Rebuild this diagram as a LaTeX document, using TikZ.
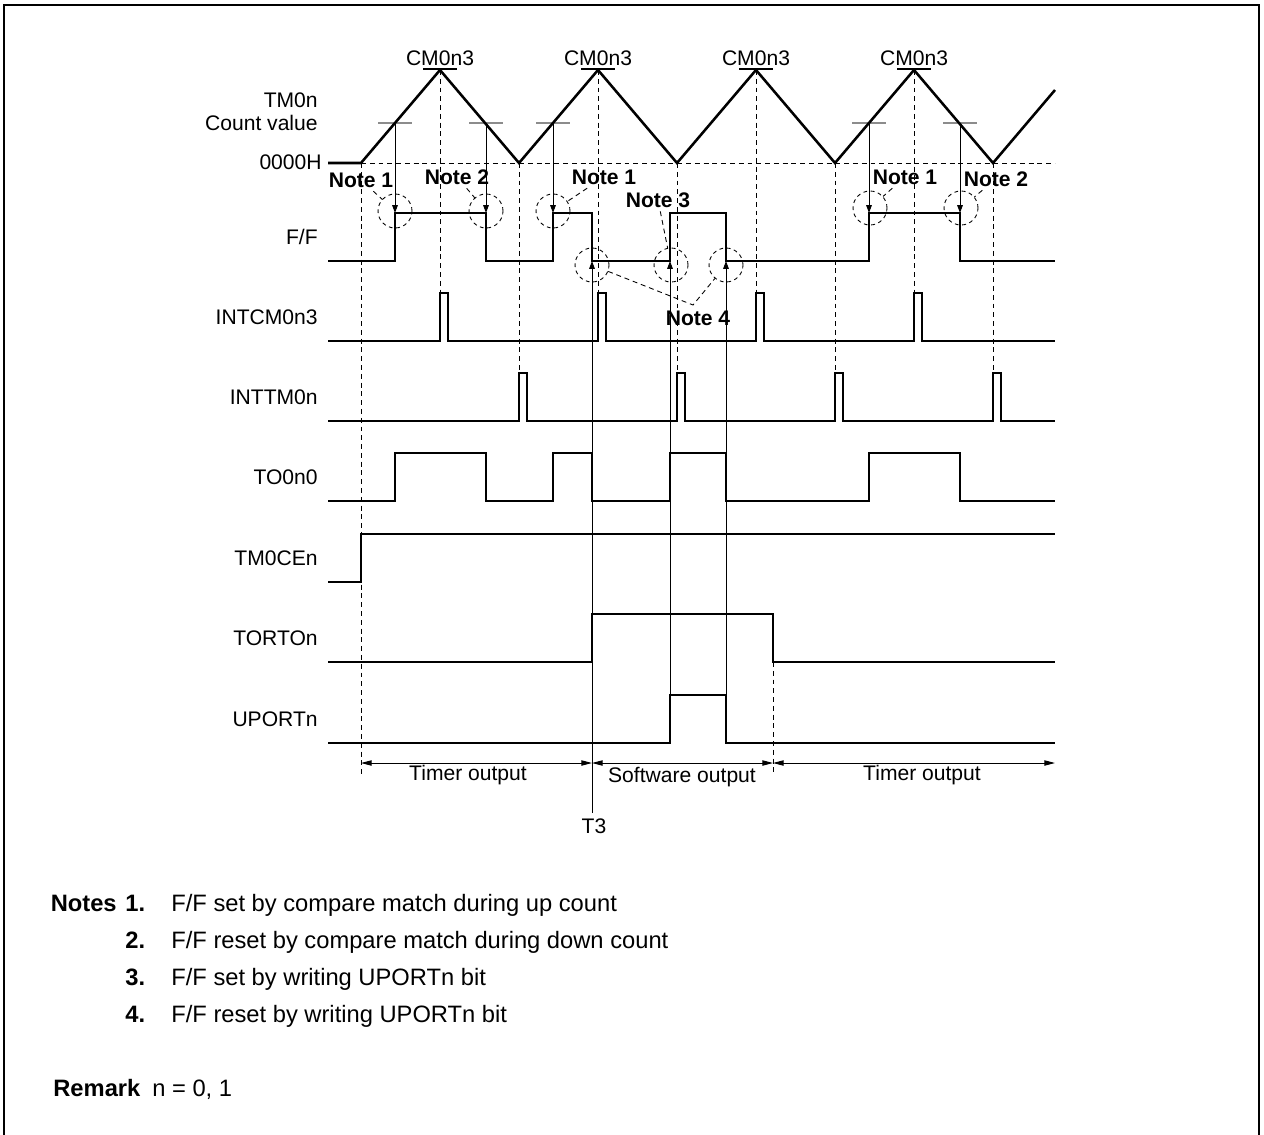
\documentclass[tikz,border=0pt]{standalone}
\usepackage{fontspec}
\setmainfont{Liberation Sans}
\usetikzlibrary{arrows.meta,positioning}
\newcommand{\diagfont}{\fontsize{12}{13}\selectfont}
\newcommand{\notefont}{\fontsize{13.5}{16}\selectfont}
\tikzset{
  sig/.style={line width=1.45pt, line join=miter},
  guide/.style={line width=0.5pt, dash pattern=on 2.8pt off 2.2pt},
  lvl/.style={line width=0.6pt, draw=black!45},
  ptr/.style={line width=0.55pt, -{Triangle[length=4.5pt,width=3.2pt]}},
  span/.style={line width=0.55pt, {Triangle[length=6pt,width=3pt]}-{Triangle[length=6pt,width=3pt]}},
  ring/.style={circle, draw, line width=0.5pt, dash pattern=on 2.2pt off 2pt, minimum size=0.68cm, inner sep=0pt},
  rowlbl/.style={anchor=east, align=right, inner sep=0pt, font=\diagfont},
  notelbl/.style={inner sep=2pt, font=\diagfont\bfseries},
  leader/.style={line width=0.5pt, dash pattern=on 2.8pt off 2.2pt},
  remark/.style={anchor=base west, inner sep=0pt, font=\notefont}
}
\begin{document}
\begin{tikzpicture}[x=0.02cm, y=-0.02cm, font=\diagfont]
  \useasboundingbox (0,0) rectangle (1264,1135);
  \draw[line width=1.1pt] (4,1135) -- (4,5) -- (1259,5) -- (1259,1135);

  \node[rowlbl] (cnt) at (318,112) {TM0n\\Count value};
  \node[rowlbl] (zero) at (322,162) {0000H};
  \node[rowlbl] (ff) at (318,237) {F/F};
  \node[rowlbl] (intcm) at (318,317) {INTCM0n3};
  \node[rowlbl] (inttm) at (318,397) {INTTM0n};
  \node[rowlbl] (to) at (318,477) {TO0n0};
  \node[rowlbl] (ce) at (318,558) {TM0CEn};
  \node[rowlbl] (tort) at (318,638) {TORTOn};
  \node[rowlbl] (uport) at (318,719) {UPORTn};

  \draw[guide] (361,163) -- (1055,163);
  \draw[guide] (361,163) -- (361,776);
  \draw[guide] (773,662) -- (773,776);
  \foreach \x in {440,598,756,914} \draw[guide] (\x,70) -- (\x,293);
  \foreach \x in {519,677,835,993} \draw[guide] (\x,163) -- (\x,373);
  \foreach \x in {395,486,553,869,960} \draw[lvl] (\x-17,123) -- (\x+17,123);
  \foreach \x in {440,598,756,914} {
    \draw[line width=0.6pt] (\x-17,69) -- (\x+17,69);
    \node[anchor=base, inner sep=0pt] (cm\x) at (\x,66) {CM0n3};
  }

  \draw[sig] (328,163) -- (361,163) -- (440,70) -- (519,163) -- (598,70) -- (677,163)
    -- (756,70) -- (835,163) -- (914,70) -- (993,163) -- (1055,90);
  \draw[sig] (328,261) -| (395,213) -| (486,261) -| (553,213) -| (592,261) -| (670,213)
    -| (726,261) -| (869,213) -| (960,261) -- (1055,261);
  \draw[sig] (328,341) -| (440,293) -| (448,341) -| (598,293) -| (606,341) -| (756,293)
    -| (764,341) -| (914,293) -| (922,341) -- (1055,341);
  \draw[sig] (328,421) -| (519,373) -| (527,421) -| (677,373) -| (685,421) -| (835,373)
    -| (843,421) -| (993,373) -| (1001,421) -- (1055,421);
  \draw[sig] (328,501) -| (395,453) -| (486,501) -| (553,453) -| (592,501) -| (670,453)
    -| (726,501) -| (869,453) -| (960,501) -- (1055,501);
  \draw[sig] (328,582) -| (361,534) -- (1055,534);
  \draw[sig] (328,662) -| (592,614) -| (773,662) -- (1055,662);
  \draw[sig] (328,743) -| (670,695) -| (726,743) -- (1055,743);

  \foreach \x in {395,486,553,869,960} \draw[ptr] (\x,123) -- (\x,213);
  \node[anchor=north, inner sep=0pt] (t3) at (594,818) {T3};
  \draw[ptr] (592,813) -- (592,261);
  \draw[ptr] (670,695) -- (670,261);
  \draw[ptr] (726,695) -- (726,261);

  \node[ring] (r1) at (395,211) {};
  \node[ring] (r2) at (486,211) {};
  \node[ring] (r3) at (553,211) {};
  \node[ring] (r4) at (870,208) {};
  \node[ring] (r5) at (961,208) {};
  \node[ring] (r6) at (592,265) {};
  \node[ring] (r7) at (671,265) {};
  \node[ring] (r8) at (726,265) {};

  \node[notelbl] (n1) at (361,180) {Note 1};
  \node[notelbl] (n2) at (457,177) {Note 2};
  \node[notelbl] (n3) at (604,177) {Note 1};
  \node[notelbl] (n4) at (658,200) {Note 3};
  \node[notelbl] (n5) at (698,318) {Note 4};
  \node[notelbl] (n6) at (905,177) {Note 1};
  \node[notelbl] (n7) at (996,179) {Note 2};
  \coordinate (n5top) at (693,305);

  \draw[leader] (n1) -- (r1);
  \draw[leader] (n2) -- (r2);
  \draw[leader] (n3) -- (r3);
  \draw[leader] (n4) -- (r7);
  \draw[leader] (r6) -- (n5top) -- (r8);
  \draw[leader] (n6) -- (r4);
  \draw[leader] (n7) -- (r5);

  \draw[span] (361,763) -- (592,763);
  \draw[span] (592,763) -- (773,763);
  \draw[span] (773,763) -- (1055,763);
  \node (tmr1) at (468,775) {Timer output};
  \node (soft) at (682,777) {Software output};
  \node (tmr2) at (922,775) {Timer output};

  \node[remark, anchor=base east, font=\notefont\bfseries] (notes) at (117,911) {Notes};
  \node[remark, font=\notefont\bfseries] (k1) at (125,911) {1.};
  \node[remark, font=\notefont\bfseries] (k2) at (125,948) {2.};
  \node[remark, font=\notefont\bfseries] (k3) at (125,985) {3.};
  \node[remark, font=\notefont\bfseries] (k4) at (125,1022) {4.};
  \node[remark] (t1) at (171,911) {F/F set by compare match during up count};
  \node[remark] (t2) at (171,948) {F/F reset by compare match during down count};
  \node[remark] (t3txt) at (171,985) {F/F set by writing UPORTn bit};
  \node[remark] (t4) at (171,1022) {F/F reset by writing UPORTn bit};
  \node[remark, font=\notefont\bfseries] (rem) at (53,1096) {Remark};
  \node[remark] (remtxt) at (152,1096) {n = 0, 1};
\end{tikzpicture}
\end{document}
